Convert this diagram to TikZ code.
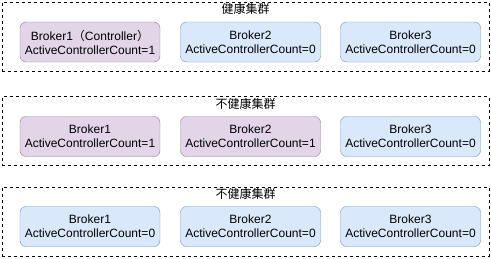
\documentclass[tikz,border=0pt]{standalone}
\usepackage{fontspec}
\setmainfont{Liberation Sans}
\newfontfamily\cjk{Noto Sans CJK SC}
\usepackage{tikz}
\usepackage{xcolor}
\definecolor{purplefill}{HTML}{E1D5E7}
\definecolor{purpleline}{HTML}{9673A6}
\definecolor{bluefill}{HTML}{DAE8FC}
\definecolor{blueline}{HTML}{6C8EBF}

\begin{document}
\begin{tikzpicture}[x=1pt,y=-1pt,
    cluster/.style={draw=black,dash pattern=on 3pt off 3pt,minimum width=487pt,minimum height=69pt,inner sep=0pt},
    title/.style={anchor=north,inner sep=0pt,font=\cjk\fontsize{12}{14}\selectfont},
    ctrl/.style={draw=purpleline,fill=purplefill,rounded corners=6pt,minimum width=140pt,minimum height=40pt,inner sep=0pt,align=center,font=\fontsize{12}{14}\selectfont},
    plain/.style={draw=blueline,fill=bluefill,rounded corners=6pt,minimum width=140pt,minimum height=40pt,inner sep=0pt,align=center,font=\fontsize{12}{14}\selectfont}]
\useasboundingbox (0,0) rectangle (491,258);

% healthy cluster
\node[cluster] (c1) at (245.5,36.5) {};
\node[title] (t1) at ([yshift=-1.5pt]c1.north) {健康集群};
\node[ctrl] (b11) at (90,42) {Broker1{\cjk（}Controller{\cjk）}\\ActiveControllerCount=1};
\node[plain] (b12) at (250.5,42) {Broker2\\ActiveControllerCount=0};
\node[plain] (b13) at (410.5,42) {Broker3\\ActiveControllerCount=0};

% two controllers
\node[cluster] (c2) at (245.5,131) {};
\node[title] (t2) at ([yshift=-1.5pt]c2.north) {不健康集群};
\node[ctrl] (b21) at (90,136.5) {Broker1\\ActiveControllerCount=1};
\node[ctrl] (b22) at (250.5,136.5) {Broker2\\ActiveControllerCount=1};
\node[plain] (b23) at (410.5,136.5) {Broker3\\ActiveControllerCount=0};

% no controller
\node[cluster] (c3) at (245.5,221.5) {};
\node[title] (t3) at ([yshift=-1.5pt]c3.north) {不健康集群};
\node[plain] (b31) at (90,226.5) {Broker1\\ActiveControllerCount=0};
\node[plain] (b32) at (250.5,226.5) {Broker2\\ActiveControllerCount=0};
\node[plain] (b33) at (410.5,226.5) {Broker3\\ActiveControllerCount=0};
\end{tikzpicture}
\end{document}
